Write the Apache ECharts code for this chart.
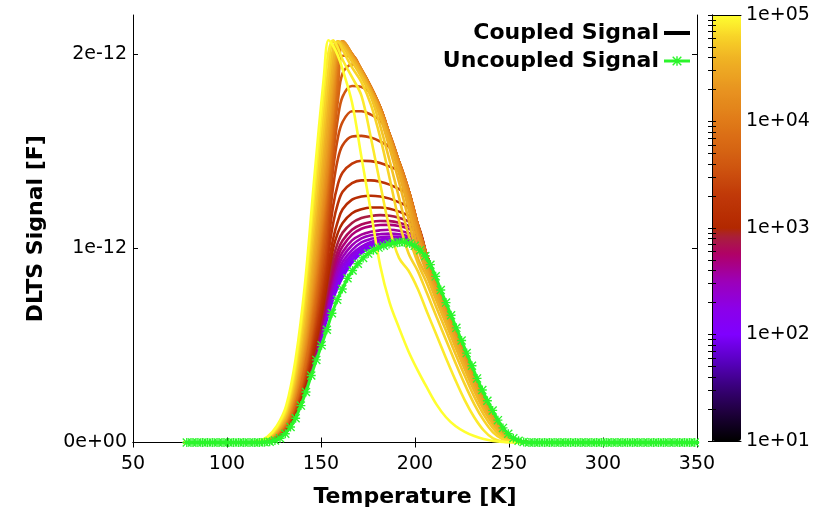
<!DOCTYPE html>
<html><head><meta charset="utf-8">
<script src="https://cdn.jsdelivr.net/npm/echarts@6/dist/echarts.min.js"></script>
<style>html,body{margin:0;padding:0;background:#fff}#c{width:813px;height:518px}</style>
</head><body><div id="c"></div>
<script>
// ---------- tick labels ----------
const xTicks = [50, 100, 150, 200, 250, 300, 350];
const yTickLabels = ['0e+00', '1e-12', '2e-12'];
const cbDecades = [1, 2, 3, 4, 5];
const cbLabels = ['1e+01', '1e+02', '1e+03', '1e+04', '1e+05'];

// ---------- uncoupled signal (values in units of 1e-12 F) ----------
const tempsGreen = [78.6,81.4,84.1,86.9,89.6,92.4,95.2,97.9,100.7,103.4,
106.2,108.9,111.7,114.5,117.2,120.0,122.7,125.5,128.2,131.0,
133.8,136.5,139.3,142.0,144.8,147.5,150.3,153.1,155.8,158.6,
161.3,164.1,166.8,169.6,172.4,175.1,177.9,180.6,183.4,186.2,
188.9,191.7,194.4,197.2,199.9,202.7,205.5,208.2,211.0,213.7,
216.5,219.2,222.0,224.8,227.5,230.3,233.0,235.8,238.5,241.3,
244.1,246.8,249.6,252.3,255.1,257.8,260.6,263.4,266.1,268.9,
271.6,274.4,277.2,279.9,282.7,285.4,288.2,290.9,293.7,296.5,
299.2,302.0,304.7,307.5,310.2,313.0,315.8,318.5,321.3,324.0,
326.8,329.5,332.3,335.1,337.8,340.6,343.3,346.1,348.8,351.6];
const uncoupled = [0,0,0,0,0,0,0,0,0,0,
0,0,0,0,0,0.001,0.004,0.010,0.022,0.045,
0.08,0.125,0.19,0.26,0.345,0.425,0.50,0.58,0.665,0.735,
0.79,0.845,0.885,0.92,0.95,0.972,0.99,1.003,1.013,1.021,
1.027,1.03,1.03,1.024,1.012,0.99,0.96,0.915,0.855,0.785,
0.72,0.655,0.59,0.525,0.46,0.395,0.33,0.27,0.215,0.165,
0.115,0.075,0.045,0.022,0.009,0.003,0,0,0,0,
0,0,0,0,0,0,0,0,0,0,
0,0,0,0,0,0,0,0,0,0,
0,0,0,0,0,0,0,0,0,0];

// ---------- coupled signals, one per log10(frequency) ----------
const tempsCoupled = [77,111.5,116.5,121.5,126.5,131.5,136.5,141.5,146.5,151.5,154,156.5,159,161.5,166.5,171.5,176.5,181.5,186.5,191.5,196.5,201.5,206.5,211.5,216.5,221.5,226.5,231.5,236.5,241.5,246.5,251.5,256.5,261.5,350];
const tailShared = [0.955,0.8225,0.699,0.583,0.464,0.35,0.242,0.15,0.077,0.027,0.006,0,0];
const c20 = [0,0,0.001,0.004,0.019,0.054,0.134,0.256,0.41,0.58,0.66,0.74,0.80,0.85,0.925,0.975,1.003,1.02,1.03,1.034,1.031,1.014, ...tailShared];
const c21 = [0,0,0.001,0.005,0.02,0.055,0.136,0.258,0.415,0.59,0.675,0.755,0.82,0.87,0.94,0.985,1.012,1.028,1.036,1.038,1.034,1.018, ...tailShared];
const c22 = [0,0,0.001,0.005,0.021,0.056,0.138,0.26,0.42,0.60,0.69,0.77,0.84,0.89,0.955,0.995,1.02,1.035,1.042,1.043,1.038,1.022, ...tailShared];
const c23 = [0,0,0.001,0.005,0.022,0.057,0.14,0.262,0.425,0.61,0.705,0.79,0.86,0.91,0.97,1.008,1.032,1.044,1.049,1.049,1.042,1.028, ...tailShared];
const c24 = [0,0,0.001,0.006,0.023,0.058,0.142,0.265,0.43,0.62,0.72,0.81,0.88,0.93,0.99,1.03,1.048,1.056,1.06,1.059,1.05,1.035, ...tailShared];
const c25 = [0,0,0.001,0.006,0.024,0.06,0.145,0.27,0.435,0.635,0.74,0.83,0.905,0.955,1.015,1.05,1.066,1.072,1.075,1.072,1.062,1.046, ...tailShared];
const c26 = [0,0,0.001,0.007,0.025,0.062,0.147,0.275,0.44,0.65,0.76,0.855,0.93,0.98,1.04,1.07,1.085,1.092,1.095,1.09,1.078,1.06, ...tailShared];
const c27 = [0,0,0.002,0.007,0.026,0.064,0.15,0.28,0.445,0.665,0.78,0.88,0.96,1.01,1.07,1.10,1.113,1.119,1.12,1.114,1.10,1.08, ...tailShared];
const c28 = [0,0,0.002,0.008,0.027,0.066,0.152,0.285,0.455,0.68,0.80,0.91,0.99,1.04,1.095,1.122,1.135,1.14,1.139,1.131,1.116,1.095, ...tailShared];
const c29 = [0,0,0.002,0.008,0.028,0.068,0.155,0.29,0.465,0.70,0.83,0.95,1.03,1.08,1.13,1.155,1.166,1.17,1.167,1.156,1.138,1.11, ...tailShared];
const c30 = [0,0,0.002,0.009,0.029,0.07,0.16,0.30,0.48,0.72,0.87,1.0,1.08,1.13,1.18,1.20,1.209,1.209,1.203,1.188,1.167,1.12, ...tailShared];
const c31 = [0,0,0.002,0.01,0.03,0.073,0.165,0.31,0.505,0.76,0.92,1.05,1.14,1.20,1.25,1.266,1.27,1.266,1.255,1.236,1.21,1.12, ...tailShared];
const c32 = [0,0,0.002,0.01,0.031,0.076,0.17,0.32,0.53,0.80,0.98,1.13,1.23,1.29,1.335,1.349,1.349,1.342,1.327,1.304,1.274,1.12, ...tailShared];
const c33 = [0,0,0.002,0.011,0.033,0.079,0.175,0.33,0.555,0.84,1.04,1.22,1.33,1.39,1.435,1.45,1.448,1.438,1.42,1.396,1.30,1.12, ...tailShared];
const c34 = [0,0,0.002,0.011,0.034,0.082,0.18,0.34,0.58,0.88,1.10,1.32,1.46,1.53,1.575,1.578,1.569,1.549,1.519,1.445,1.30,1.12, ...tailShared];
const c35 = [0,0,0.003,0.012,0.036,0.085,0.188,0.355,0.61,0.93,1.17,1.41,1.57,1.65,1.705,1.705,1.687,1.657,1.585,1.445,1.30,1.12, ...tailShared];
const c36 = [0,0,0.003,0.013,0.038,0.088,0.195,0.37,0.64,0.99,1.24,1.48,1.67,1.78,1.835,1.83,1.80,1.725,1.585,1.445,1.30,1.12, ...tailShared];
const c37 = [0,0,0.003,0.014,0.04,0.092,0.205,0.385,0.67,1.05,1.30,1.55,1.76,1.90,1.945,1.915,1.83,1.725,1.585,1.445,1.30,1.12, ...tailShared];
const c38 = [0,0,0.003,0.015,0.041,0.095,0.21,0.40,0.70,1.10,1.34,1.59,1.83,1.99,1.99,1.915,1.83,1.725,1.585,1.445,1.30,1.12, ...tailShared];
const c39 = [0,0,0.003,0.015,0.043,0.10,0.22,0.42,0.74,1.14,1.38,1.64,1.90,2.04,2.0,1.92,1.83,1.725,1.585,1.445,1.30,1.12, ...tailShared];
const c40 = [0,0,0.003,0.016,0.046,0.105,0.24,0.455,0.77,1.18,1.42,1.69,1.96,2.06,2.0,1.92,1.83,1.725,1.585,1.445,1.30,1.12, ...tailShared];
const c41 = [0,0,0.003,0.016,0.047,0.11,0.245,0.47,0.81,1.22,1.46,1.73,2.0,2.065,2.0,1.92,1.828,1.722,1.583,1.442,1.295,1.11,0.94,0.815,0.692,0.576,0.457,0.343,0.236,0.145,0.074,0.026,0.006,0,0];
const c42 = [0,0,0.003,0.017,0.049,0.114,0.255,0.485,0.84,1.26,1.50,1.77,2.02,2.065,1.998,1.918,1.825,1.718,1.58,1.438,1.285,1.10,0.915,0.8025,0.6805,0.564,0.4455,0.332,0.2265,0.1375,0.0685,0.0234,0.004,0,0];
const c43 = [0,0,0.003,0.018,0.052,0.12,0.27,0.51,0.88,1.32,1.56,1.83,2.04,2.065,1.995,1.915,1.82,1.712,1.575,1.425,1.265,1.08,0.905,0.79,0.669,0.552,0.434,0.321,0.217,0.13,0.063,0.021,0.005,0,0];
const c44 = [0,0,0.003,0.019,0.055,0.125,0.285,0.54,0.93,1.38,1.62,1.88,2.05,2.06,1.99,1.91,1.815,1.705,1.565,1.41,1.24,1.05,0.8925,0.7775,0.6575,0.54,0.4225,0.31,0.2075,0.1225,0.0575,0.019,0.003,0,0];
const c45 = [0,0,0.004,0.02,0.058,0.13,0.30,0.57,0.99,1.45,1.69,1.93,2.06,2.055,1.985,1.905,1.81,1.695,1.55,1.385,1.205,1.0,0.8715,0.7525,0.6345,0.516,0.3995,0.288,0.1885,0.1075,0.0465,0.0146,0.002,0,0];
const c46 = [0,0,0.004,0.021,0.062,0.14,0.32,0.61,1.06,1.53,1.77,1.98,2.065,2.05,1.975,1.895,1.80,1.675,1.515,1.34,1.15,0.95,0.85,0.7275,0.6115,0.492,0.3765,0.266,0.1695,0.0925,0.0355,0.0102,0.001,0,0];
const c47 = [0,0,0.004,0.023,0.067,0.15,0.34,0.66,1.13,1.61,1.85,2.03,2.065,2.04,1.96,1.88,1.78,1.63,1.45,1.26,1.07,0.924,0.815,0.692,0.576,0.457,0.343,0.236,0.145,0.074,0.026,0.006,0,0,0];
const c48 = [0,0,0.005,0.025,0.072,0.16,0.37,0.72,1.21,1.70,1.93,2.06,2.06,2.02,1.93,1.855,1.74,1.57,1.36,1.14,0.975,0.882,0.765,0.646,0.528,0.411,0.299,0.198,0.115,0.052,0.017,0.003,0,0,0];
const c49 = [0,0,0.005,0.027,0.078,0.175,0.40,0.78,1.30,1.80,2.01,2.07,2.03,1.97,1.88,1.785,1.57,1.33,1.10,0.95,0.885,0.79,0.669,0.552,0.434,0.321,0.217,0.13,0.063,0.021,0.005,0,0,0,0];
const c50 = [0,0,0.006,0.03,0.085,0.19,0.43,0.82,1.37,1.88,2.07,2.04,1.99,1.92,1.75,1.47,1.19,0.91,0.72,0.59,0.47,0.37,0.28,0.195,0.13,0.085,0.055,0.033,0.018,0.008,0.003,0.001,0,0,0];
const coupledLogF = [2.0,2.1,2.2,2.3,2.4,2.5,2.6,2.7,2.8,2.9,3.0,3.1,3.2,3.3,3.4,3.5,3.6,3.7,3.8,3.9,4.0,4.1,4.2,4.3,4.4,4.5,4.6,4.7,4.8,4.9,5.0];
const coupledValues = [c20,c21,c22,c23,c24,c25,c26,c27,c28,c29,c30,c31,c32,c33,c34,c35,c36,c37,c38,c39,c40,c41,c42,c43,c44,c45,c46,c47,c48,c49,c50];

// ---------- palette ----------
const paletteStops = [[1.0,'#000000'],[1.25,'#1c0038'],[1.5,'#380078'],[1.75,'#5800c0'],[2.0,'#7f00ff'],[2.25,'#8c00e8'],[2.5,'#9c00b8'],[2.75,'#b00068'],[2.92,'#a8203c'],[3.0,'#b22800'],[3.3,'#c03808'],[3.6,'#d05810'],[4.0,'#e07a18'],[4.3,'#e89420'],[4.6,'#f0b424'],[4.8,'#f8d428'],[5.0,'#ffff30']];
function hex2rgb(h){return [parseInt(h.substr(1,2),16),parseInt(h.substr(3,2),16),parseInt(h.substr(5,2),16)];}
function colorAt(p){
  for (let i=0;i<paletteStops.length-1;i++){
    const [a,ca]=paletteStops[i],[b,cb]=paletteStops[i+1];
    if (p>=a && p<=b){
      const t=(p-a)/(b-a), A=hex2rgb(ca), B=hex2rgb(cb);
      return 'rgb('+A.map((v,k)=>Math.round(v+(B[k]-v)*t)).join(',')+')';
    }
  }
  return paletteStops[paletteStops.length-1][1];
}
const cbColors=[]; for(let i=0;i<=80;i++) cbColors.push(colorAt(1+4*i/80));
const cbTicks=[]; cbDecades.forEach(d=>{ if(d<5){ for(let k=1;k<=9;k++) cbTicks.push(d+Math.log10(k)); } else cbTicks.push(d); });

const FONT='DejaVu Sans';
const starPath='path://M0,8.5L20,8.5L20,11.5L0,11.5Z M8.5,0L11.5,0L11.5,20L8.5,20Z M0,2.1L2.1,0L20,17.9L17.9,20Z M17.9,0L20,2.1L2.1,20L0,17.9Z';

const series=[];
series.push({type:'line',name:'Coupled Signal',data:[],symbol:'none',lineStyle:{width:4,color:'#000'},itemStyle:{color:'rgba(0,0,0,0)'}});
coupledLogF.forEach((p,idx)=>{
  const vals=coupledValues[idx];
  series.push({type:'line',name:'f'+p,xAxisIndex:0,yAxisIndex:0,
    data:tempsCoupled.map((t,i)=>[t,vals[i]]),smooth:0.35,symbol:'none',silent:true,z:2,
    lineStyle:{width:2.6,color:colorAt(p)},itemStyle:{color:colorAt(p)}});
});
series.push({type:'line',name:'Uncoupled Signal',xAxisIndex:0,yAxisIndex:0,
  data:tempsGreen.map((t,i)=>[t,uncoupled[i]]),symbol:starPath,symbolSize:9,showAllSymbol:true,z:5,silent:true,
  lineStyle:{width:3,color:'#2bf52b'},itemStyle:{color:'#2bf52b'}});
series.push({type:'scatter',name:'cbDummy',xAxisIndex:2,yAxisIndex:2,data:[],silent:true});

const lbl={fontFamily:FONT,fontSize:19,color:'#000'};
const chart=echarts.init(document.getElementById('c'),null,{renderer:'canvas'});
chart.setOption({
  animation:false,
  backgroundColor:'#fff',
  grid:[{left:133,right:116,top:15,bottom:75.5},{left:712,top:15,width:29,height:426}],
  legend:{data:[{name:'Coupled Signal',lineStyle:{width:4,color:'#000'}},{name:'Uncoupled Signal',lineStyle:{width:3,color:'#2bf52b'}}],
    orient:'vertical',align:'right',right:121,top:22,padding:0,
    itemWidth:26,itemHeight:12,itemGap:6,selectedMode:false,
    textStyle:{fontFamily:FONT,fontSize:22,fontWeight:'bold',color:'#000'}},
  visualMap:{type:'continuous',min:1,max:5,seriesIndex:[series.length-1],left:712,top:15,itemWidth:29,itemHeight:426,
    padding:0,calculable:false,inRange:{color:cbColors},z:3},
  xAxis:[
    {type:'value',gridIndex:0,min:xTicks[0],max:xTicks[xTicks.length-1],interval:50,position:'bottom',
     name:'Temperature [K]',nameLocation:'middle',nameGap:44,
     nameTextStyle:{fontFamily:FONT,fontSize:22,fontWeight:'bold',color:'#000'},
     axisLine:{lineStyle:{color:'#000',width:1}},axisTick:{inside:true,length:5,lineStyle:{color:'#000'}},
     axisLabel:Object.assign({margin:12},lbl),splitLine:{show:false}},
    {type:'value',gridIndex:0,min:xTicks[0],max:xTicks[xTicks.length-1],interval:50,position:'top',
     axisLine:{lineStyle:{color:'#000',width:1}},axisTick:{inside:true,length:5,lineStyle:{color:'#000'}},
     axisLabel:{show:false},splitLine:{show:false}},
    {type:'value',gridIndex:1,min:0,max:1,position:'bottom',z:10,axisLine:{lineStyle:{color:'#000'}},axisTick:{show:false},axisLabel:{show:false},splitLine:{show:false}},
    {type:'value',gridIndex:1,min:0,max:1,position:'top',z:10,axisLine:{lineStyle:{color:'#000'}},axisTick:{show:false},axisLabel:{show:false},splitLine:{show:false}}
  ],
  yAxis:[
    {type:'value',gridIndex:0,min:0,max:2.2,interval:1,position:'left',
     name:'DLTS Signal [F]',nameLocation:'middle',nameGap:86,
     nameTextStyle:{fontFamily:FONT,fontSize:22,fontWeight:'bold',color:'#000'},
     axisLine:{show:true,lineStyle:{color:'#000',width:1}},axisTick:{show:true,inside:true,length:5,customValues:[0,1,2],lineStyle:{color:'#000'}},
     axisLabel:Object.assign({margin:6,customValues:[0,1,2],formatter:v=>(Math.abs(v-Math.round(v))<1e-9?yTickLabels[Math.round(v)]:'')},lbl),splitLine:{show:false}},
    {type:'value',gridIndex:0,min:0,max:2.2,interval:1,position:'right',
     axisLine:{show:true,lineStyle:{color:'#000',width:1}},axisTick:{show:true,inside:true,length:5,customValues:[0,1,2],lineStyle:{color:'#000'}},
     axisLabel:{show:false},splitLine:{show:false}},
    {type:'value',gridIndex:1,min:1,max:5,interval:1,position:'right',z:10,
     axisLine:{show:true,lineStyle:{color:'#000'}},
     axisTick:{show:true,inside:true,length:4,customValues:cbTicks,lineStyle:{color:'#000'}},
     axisLabel:Object.assign({margin:5,formatter:v=>cbLabels[Math.round(v)-1]},lbl),splitLine:{show:false}},
    {type:'value',gridIndex:1,min:1,max:5,interval:1,position:'left',z:10,
     axisLine:{show:true,lineStyle:{color:'#000'}},
     axisTick:{show:true,inside:true,length:4,customValues:cbTicks,lineStyle:{color:'#000'}},
     axisLabel:{show:false},splitLine:{show:false}}
  ],
  series:series
});
</script></body></html>
